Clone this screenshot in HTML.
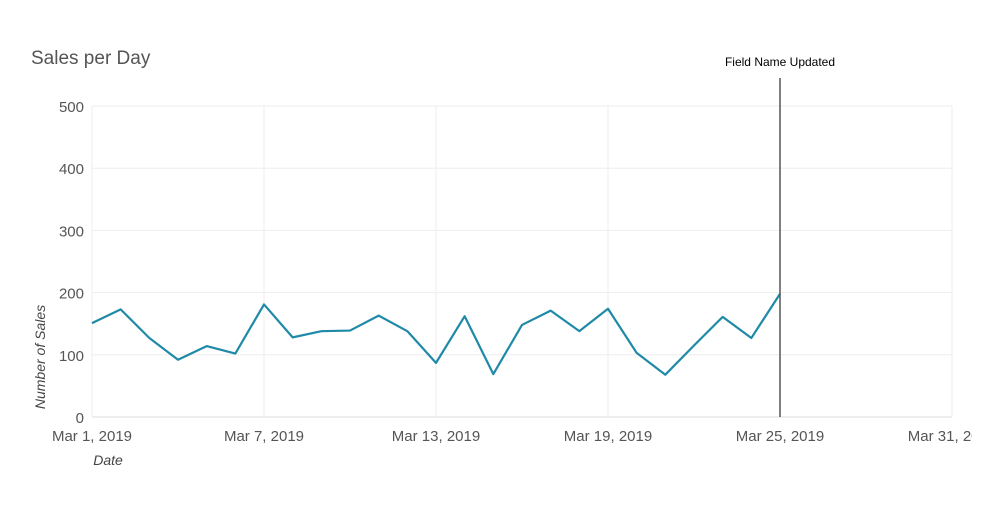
<!DOCTYPE html>
<html><head><meta charset="utf-8"><style>
body{margin:0;background:#fff;width:1000px;height:505px;overflow:hidden;font-family:"Liberation Sans",sans-serif}
</style></head><body>
<svg id="chart" width="1000" height="505" xmlns="http://www.w3.org/2000/svg">
<defs><clipPath id="clipx"><rect x="0" y="0" width="972" height="505"/></clipPath></defs>
<text x="31" y="64" font-size="19" fill="#555">Sales per Day</text>
<g id="grid"></g><g id="yt"></g><g id="xt" clip-path="url(#clipx)"></g>
<path id="line" fill="none" stroke="#1f8aa8" stroke-width="2.2" stroke-linejoin="round"/>
<line id="ann" stroke="#555" stroke-width="1.5"/>
<text id="annt" font-size="12" fill="#000" text-anchor="middle">Field Name Updated</text>
<text transform="translate(45,357) rotate(-90)" text-anchor="middle" font-size="14" font-style="italic" fill="#444">Number of Sales</text>
<text x="108" y="465" text-anchor="middle" font-size="14" font-style="italic" fill="#444">Date</text>
</svg>
<script>
const days=[1,2,3,4,5,6,7,8,9,10,11,12,13,14,15,16,17,18,19,20,21,22,23,24,25];
const sales=[151,173,127,92,114,102,181,128,138,139,163,138,87,162,69,148,171,138,174,103,68,115,161,127,198];
const yTicks=[0,100,200,300,400,500];
const xTickDays=[1,7,13,19,25,31];
const xTickLabels=["Mar 1, 2019","Mar 7, 2019","Mar 13, 2019","Mar 19, 2019","Mar 25, 2019","Mar 31, 2019"];
const annotationDay=25;
const X0=92,X1=952,Y0=417,Y1=106;
const x=d=>X0+(d-1)*(X1-X0)/30;
const y=v=>Y0-v*(Y0-Y1)/500;
const ns="http://www.w3.org/2000/svg";
const mk=(t,a,p)=>{const e=document.createElementNS(ns,t);for(const k in a)e.setAttribute(k,a[k]);p.appendChild(e);return e;};
const grid=document.getElementById('grid'),yt=document.getElementById('yt'),xt=document.getElementById('xt');
yTicks.forEach(v=>{
 const l=mk('line',{x1:X0,x2:X1,y1:y(v),y2:y(v),stroke:v===0?'#ddd':'#eee','stroke-width':1},grid);
 
 
 const t=mk('text',{x:84,y:y(v)+6,'text-anchor':'end','font-size':15,fill:'#555'},yt);
 t.textContent=v;
 
 
});
xTickDays.forEach((d,i)=>{
 const l=mk('line',{x1:x(d),x2:x(d),y1:Y1,y2:Y0,stroke:'#eee','stroke-width':1},grid);
 
 
 const t=mk('text',{x:x(d),y:441,'text-anchor':'middle','font-size':15,fill:'#555'},xt);
 t.textContent=xTickLabels[i];
 
 
});
document.getElementById('line').setAttribute('d',days.map((d,i)=>(i?'L':'M')+x(d)+','+y(sales[i])).join(''));
const a=document.getElementById('ann');
a.setAttribute('x1',x(annotationDay));a.setAttribute('x2',x(annotationDay));a.setAttribute('y1',78);a.setAttribute('y2',Y0);
const at=document.getElementById('annt');at.setAttribute('x',x(annotationDay));at.setAttribute('y',66);
</script>
</body></html>
